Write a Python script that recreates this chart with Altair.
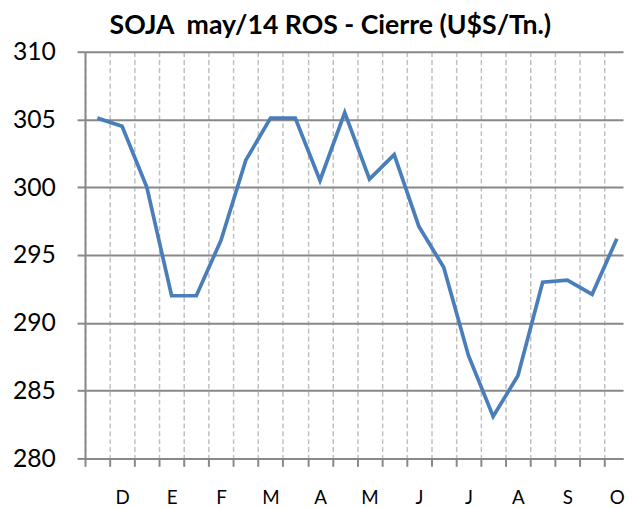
import altair as alt
import pandas as pd

# Data
precios = [305.1, 304.5, 300.0, 292.0, 292.0, 296.1, 302.0, 305.1, 305.1, 300.5,
           305.5, 300.6, 302.4, 297.1, 294.1, 287.6, 283.1, 286.1, 293.0, 293.15,
           292.1, 296.2]
indices = list(range(len(precios)))
meses = ["D", "E", "F", "M", "A", "M", "J", "J", "A", "S", "O"]
y_ticks = [280, 285, 290, 295, 300, 305, 310]

df = pd.DataFrame({"i": indices, "precio": precios})

meses_expr = "[" + ",".join("'" + m + "'" for m in meses) + "]"
n = len(precios)
x_values = list(range(n)) + [2 * k + 1.5 for k in range(len(meses))]

x_axis = alt.Axis(
    values=x_values,
    title=None,
    grid=True,
    gridColor="#bfbfbf",
    gridDash=[5, 3],
    gridWidth=1.5,
    gridOpacity={"condition": {"test": "datum.value % 1 == 0", "value": 1}, "value": 0},
    tickOpacity={"condition": {"test": "datum.value % 1 == 0", "value": 1}, "value": 0},
    tickColor="#888888",
    tickWidth=2,
    tickSize=8,
    domainColor="#888888",
    domainWidth=2,
    labelExpr="datum.value % 1 == 0 ? '' : " + meses_expr + "[floor(datum.value / 2)]",
    labelFont="Lato",
    labelFontSize=19,
    labelColor="#000000",
    labelPadding=23,
    labelBaseline="top",
    labelFlush=False,
    labelOverlap=False,
)

y_axis = alt.Axis(
    values=y_ticks,
    title=None,
    grid=True,
    gridColor="#888888",
    gridWidth=2,
    tickColor="#888888",
    tickWidth=2,
    tickSize=8,
    domainColor="#888888",
    domainWidth=2,
    labelFont="Lato",
    labelFontSize=25,
    labelColor="#000000",
    labelPadding=22,
    labelFlush=False,
)

chart = (
    alt.Chart(df)
    .transform_calculate(pos="datum.i + 0.5")
    .mark_line(color="#4a7ebb", strokeWidth=3.75)
    .encode(
        x=alt.X("pos:Q", scale=alt.Scale(domain=[0, 21.75], nice=False, zero=False), axis=x_axis),
        y=alt.Y("precio:Q", scale=alt.Scale(domain=[280, 310], nice=False, zero=False), axis=y_axis),
    )
    .properties(
        width=545,
        height=412,
        title=alt.TitleParams(
            text="SOJA\u00a0 may/14 ROS - Cierre (U$S/Tn.)",
            font="Lato",
            fontSize=27,
            fontWeight="bold",
            color="#000000",
            anchor="middle",
            baseline="top",
            dx=-24,
            offset=0,
        ),
        padding={"left": 4, "top": 1, "right": 0, "bottom": 0},
    )
    .configure_view(stroke=None)
)

chart.save("out.html", embed_options={"renderer": "svg", "actions": False})
